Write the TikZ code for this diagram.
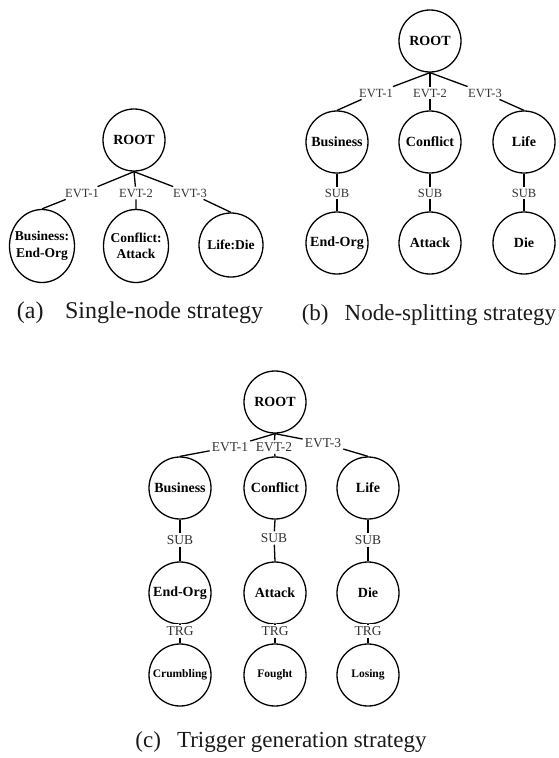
\documentclass[tikz,border=0pt]{standalone}
\usepackage{fontspec}
\setmainfont{Liberation Serif}
\usetikzlibrary{shapes.geometric}
\begin{document}
\begin{tikzpicture}[x=1pt,y=-1pt,
  nd/.style={circle, draw, line width=1.3pt, minimum size=62pt, inner sep=0pt,
    font=\fontsize{14}{16}\selectfont\bfseries, align=center},
  ndsmall/.style={nd, font=\fontsize{11.5}{13}\selectfont\bfseries},
  ovl/.style={ellipse, draw, line width=1.3pt, minimum width=65pt, minimum height=73pt, inner sep=0pt},
  ovltext/.style={font=\fontsize{13.5}{16.5}\selectfont\bfseries, align=center, inner sep=0pt},
  lb/.style={fill=white, inner sep=2pt, font=\fontsize{12.5}{14}\selectfont, text=black!80},
  lbc/.style={lb, font=\fontsize{13.5}{15}\selectfont},
  conn/.style={line width=1.3pt},
  captext/.style={font=\fontsize{23}{27}\selectfont, text=black!90}
]
\useasboundingbox (0,0) rectangle (558,758);

% ---------- (a) ----------
\node[nd] (aR) at (134,140) {ROOT};
\node[lb] (a1) at (82,193) {EVT-1};
\node[lb] (a2) at (136,193) {EVT-2};
\node[lb] (a3) at (190,193) {EVT-3};
\node[ovl] (aB) at (42,246) {};
\node[ovltext] (aBt) at (aB) {Business:\\End-Org};
\node[ovl] (aC) at (136,246) {};
\node[ovltext] (aCt) at (aC) {Conflict:\\Attack};
\node[nd, minimum size=64pt, font=\fontsize{13.5}{15}\selectfont\bfseries] (aL) at (231,245) {Life:Die};
\draw[conn] (aR.south) -- (a1) -- (aB.north);
\draw[conn] (aR.south) -- (a2) -- (aC.north);
\draw[conn] (aR.south) -- (a3) -- (aL.north);
\node[captext, font=\fontsize{24}{28}\selectfont] (capa) at (140,313) {(a)\hspace{0.9em}Single-node strategy};

% ---------- (b) ----------
\node[nd] (bR) at (430,41) {ROOT};
\node[lb] (b1) at (376,93) {EVT-1};
\node[lb] (b2) at (430,93) {EVT-2};
\node[lb] (b3) at (485,93) {EVT-3};
\node[nd] (bB) at (337,142) {Business};
\node[nd] (bC) at (430,142) {Conflict};
\node[nd] (bL) at (524,142) {Life};
\node[lb] (bs1) at (337,193) {SUB};
\node[lb] (bs2) at (430,193) {SUB};
\node[lb] (bs3) at (524,193) {SUB};
\node[nd] (bE) at (337,243) {End-Org};
\node[nd] (bA) at (430,243) {Attack};
\node[nd] (bD) at (524,243) {Die};
\draw[conn] (bR.south) -- (b1) -- (bB.north);
\draw[conn] (bR.south) -- (b2) -- (bC.north);
\draw[conn] (bR.south) -- (b3) -- (bL.north);
\draw[conn] (bB.south) -- (bs1) -- (bE.north);
\draw[conn] (bC.south) -- (bs2) -- (bA.north);
\draw[conn] (bL.south) -- (bs3) -- (bD.north);
\node[captext] (capb) at (429,315) {(b)\hspace{0.7em}Node-splitting strategy};

% ---------- (c) ----------
\node[nd] (cR) at (275,402) {ROOT};
\node[lbc] (c1) at (230,447) {EVT-1};
\node[lbc] (c2) at (274,447) {EVT-2};
\node[lbc] (c3) at (323,443) {EVT-3};
\node[nd] (cB) at (180,488) {Business};
\node[nd] (cC) at (275,488) {Conflict};
\node[nd] (cL) at (368,488) {Life};
\node[lbc] (cs1) at (180,540) {SUB};
\node[lbc] (cs2) at (274,538) {SUB};
\node[lbc] (cs3) at (368,540) {SUB};
\node[nd] (cE) at (180,593) {End-Org};
\node[nd] (cA) at (275,593) {Attack};
\node[nd] (cD) at (368,593) {Die};
\node[lbc] (ct1) at (180,631) {TRG};
\node[lbc] (ct2) at (275,631) {TRG};
\node[lbc] (ct3) at (368,631) {TRG};
\node[ndsmall] (cX) at (180,675) {Crumbling};
\node[ndsmall] (cF) at (275,675) {Fought};
\node[ndsmall] (cG) at (368,675) {Losing};
\draw[conn] (cR.south) -- (c1) -- (cB.north);
\draw[conn] (cR.south) -- (c2) -- (cC.north);
\draw[conn] (cR.south) -- (c3) -- (cL.north);
\draw[conn] (cB.south) -- (cs1) -- (cE.north);
\draw[conn] (cC.south) -- (cs2) -- (cA.north);
\draw[conn] (cL.south) -- (cs3) -- (cD.north);
\draw[conn] (cE.south) -- (ct1) -- (cX.north);
\draw[conn] (cA.south) -- (ct2) -- (cF.north);
\draw[conn] (cD.south) -- (ct3) -- (cG.north);
\node[captext] (capc) at (281,742) {(c)\hspace{0.7em}Trigger generation strategy};
\end{tikzpicture}
\end{document}
